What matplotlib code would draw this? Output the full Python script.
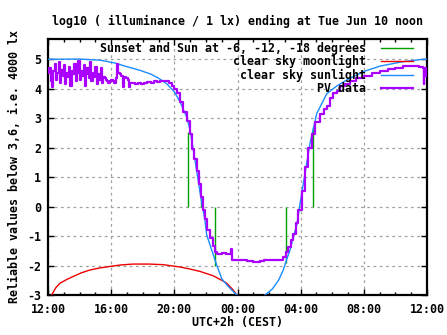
import matplotlib
matplotlib.use("Agg")
import matplotlib.pyplot as plt
import numpy as np
from matplotlib.ticker import MultipleLocator, FixedLocator
from matplotlib.lines import Line2D

# ---- data (hours after 12:00 on the x axis, log10 lux on the y axis) ----
title = "log10 ( illuminance / 1 lx) ending at Tue Jun 10 noon"
xlabel = "UTC+2h (CEST)"
ylabel = "Reliable values below 3,6, i.e. 4000 lx"
xtick_hours = [0, 4, 8, 12, 16, 20, 24]
xtick_labels = ["12:00", "16:00", "20:00", "00:00", "04:00", "08:00", "12:00"]
ytick_values = [5, 4, 3, 2, 1, 0, -1, -2, -3]

legend_labels = ["Sunset and Sun at -6, -12, -18 degrees", "clear sky moonlight",
                 "clear sky sunlight", "PV data"]

sun_event_hours = [8.885, 9.67, 10.6, 15.05, 16.02, 16.8]
sun_event_tops = [2.52, 0.28, -2.0, -1.93, 0.22, 2.7]

moon_hours = [0.23, 0.5, 0.76, 1.2, 1.6, 2.1, 2.66, 3.3, 3.93, 4.6, 5.4, 6.4, 7.3,
              8.36, 9.0, 9.63, 10.47, 11.0, 11.32, 11.73, 11.95]
moon_vals = [-3.0, -2.75, -2.6, -2.47, -2.37, -2.25, -2.15, -2.08, -2.03, -1.98, -1.95,
             -1.95, -1.97, -2.05, -2.12, -2.2, -2.35, -2.5, -2.6, -2.83, -3.0]

sun_hours = [0, 2.0, 3.3, 4.2, 5.0, 5.8, 6.5, 7.0, 7.5, 8.0, 8.36, 8.78, 9.0, 9.3,
             9.52, 9.73, 9.94, 10.05, 10.26, 10.47, 10.68, 10.89, 11.0, 11.4, 11.84,
             11.97, 12.85, 13.74, 14.2, 14.6, 14.9, 15.11, 15.33, 15.54, 15.75, 15.96,
             16.59, 17.02, 17.65, 18.3, 18.92, 19.95, 21.03, 22.48, 23.75, 24.0]
sun_vals = [5.0, 5.01, 4.97, 4.88, 4.75, 4.63, 4.5, 4.36, 4.18, 3.9, 3.56, 3.04, 2.6,
            1.6, 0.85, 0.15, -0.47, -0.96, -1.3, -1.64, -1.98, -2.28, -2.45, -2.7,
            -2.94, -3.0, -3.3, -3.0, -2.8, -2.5, -2.15, -1.8, -1.47, -1.02, -0.63, 0.1,
            2.15, 3.16, 3.83, 4.1, 4.3, 4.58, 4.77, 4.92, 5.0, 5.0]

pv_hours = [0.00, 0.08, 0.16, 0.25, 0.33, 0.42, 0.50, 0.58, 0.67, 0.75, 0.83, 0.92,
            1.00, 1.08, 1.17, 1.25, 1.33, 1.42, 1.50, 1.58, 1.67, 1.75, 1.83, 1.92,
            2.00, 2.08, 2.17, 2.25, 2.33, 2.42, 2.50, 2.58, 2.67, 2.75, 2.83, 2.92,
            3.00, 3.08, 3.17, 3.25, 3.33, 3.42, 3.50, 3.58, 3.67, 3.75, 3.83, 3.92,
            4.00, 4.10, 4.20, 4.30, 4.37, 4.45, 4.55, 4.65, 4.75, 4.82, 4.95, 5.05,
            5.15, 5.22, 5.35, 5.50, 5.70, 5.90, 6.10, 6.30, 6.50, 6.70, 6.90, 7.10,
            7.30, 7.50, 7.65, 7.83, 8.00, 8.15, 8.36, 8.57, 8.78, 8.99, 9.14, 9.27,
            9.42, 9.56, 9.69, 9.84, 9.94, 10.10, 10.26, 10.45, 10.58, 10.68, 11.0,
            11.3, 11.55, 11.62, 11.65, 12.0, 12.3, 12.6, 13.0, 13.4, 13.7, 14.3, 14.6,
            14.9, 15.05, 15.2, 15.38, 15.54, 15.70, 15.85, 16.07, 16.28, 16.49, 16.70,
            16.91, 17.23, 17.45, 17.65, 17.86, 18.07, 18.28, 18.49, 18.81, 19.13, 19.5,
            20.0, 20.5, 21.0, 21.5, 22.0, 22.5, 23.0, 23.5, 23.72, 23.78, 23.84, 23.95,
            24.0]
pv_vals = [4.55, 4.70, 4.25, 4.05, 4.60, 4.85, 4.30, 4.55, 4.90, 4.20, 4.65, 4.45,
           4.80, 4.15, 4.55, 4.40, 4.75, 4.10, 4.60, 4.50, 4.85, 4.25, 4.55, 4.95,
           4.30, 4.60, 4.45, 4.80, 4.10, 4.50, 4.70, 4.35, 4.90, 4.25, 4.55, 4.40,
           4.75, 4.15, 4.50, 4.30, 4.70, 4.20, 4.40, 4.35, 4.30, 4.25, 4.20, 4.25,
           4.30, 4.25, 4.20, 4.35, 4.85, 4.55, 4.50, 4.45, 4.05, 4.40, 4.35, 4.30,
           4.05, 4.20, 4.18, 4.15, 4.18, 4.16, 4.20, 4.22, 4.20, 4.25, 4.22, 4.25,
           4.28, 4.25, 4.20, 4.10, 4.00, 3.87, 3.55, 3.22, 2.90, 2.45, 1.96, 1.62,
           1.22, 0.77, 0.32, -0.13, -0.41, -0.80, -1.07, -1.35, -1.53, -1.60, -1.58,
           -1.62, -1.60, -1.45, -1.80, -1.82, -1.80, -1.86, -1.87, -1.86, -1.80, -1.82,
           -1.80, -1.70, -1.55, -1.37, -1.15, -0.92, -0.55, -0.13, 0.54, 1.33, 2.00,
           2.47, 2.86, 3.14, 3.30, 3.42, 3.70, 3.85, 3.92, 4.10, 4.15, 4.25, 4.35,
           4.45, 4.55, 4.62, 4.68, 4.72, 4.76, 4.77, 4.75, 4.72, 4.15, 4.70, 4.45,
           4.45]

# ---- styling ----
GREEN = "#00a000"
RED = "#ee0000"
BLUE = "#1a8cff"
PURPLE = "#aa00ff"
FONT = "DejaVu Sans Mono"
FS = 8.4

plt.rcParams["font.family"] = [FONT]
plt.rcParams["font.weight"] = "bold"
plt.rcParams["font.size"] = FS

fig = plt.figure(figsize=(4.47, 3.35), dpi=100)
ax = fig.add_axes([48 / 447, 1 - 295 / 335, 379 / 447, (295 - 38.7) / 335])

ax.set_xlim(0, 24)
ax.set_ylim(-3, 5.7)

ax.xaxis.set_major_locator(FixedLocator(xtick_hours))
ax.set_xticklabels(xtick_labels, fontweight="bold")
ax.xaxis.set_minor_locator(MultipleLocator(1))
ax.yaxis.set_major_locator(FixedLocator(ytick_values))
ax.set_yticklabels([str(v) for v in ytick_values], fontweight="bold")

ax.tick_params(which="both", direction="in", top=True, right=True, width=1, color="black")
ax.tick_params(which="major", length=4.5)
ax.tick_params(which="minor", length=2.5)
ax.tick_params(axis="x", which="major", pad=6)
ax.tick_params(axis="y", which="major", pad=5)
for s in ax.spines.values():
    s.set_linewidth(1.6)

ax.grid(True, which="major", color="#a0a0a0", linestyle=(0, (2.2, 2.8)), linewidth=0.9)
ax.set_axisbelow(True)

# curves
ax.vlines(sun_event_hours, 0, sun_event_tops, color=GREEN, linewidth=1.0, zorder=3)
h_moon, = ax.plot(moon_hours, moon_vals, color=RED, linewidth=1.0, zorder=3)
h_clear, = ax.plot(sun_hours, sun_vals, color=BLUE, linewidth=1.0, zorder=3)
h_pv, = ax.plot(pv_hours, pv_vals, color=PURPLE, linewidth=1.6, drawstyle="steps-post", zorder=4)

green_handle = Line2D([], [], color=GREEN, linewidth=1.0)
width = max(len(s) for s in legend_labels)
labels = [s.rjust(width) for s in legend_labels]
leg = ax.legend([green_handle, h_moon, h_clear, h_pv], labels, loc="upper right",
                bbox_to_anchor=(0.963, 0.987),
                markerfirst=False, frameon=False, handlelength=2.75, handletextpad=1.25,
                labelspacing=0.03, borderaxespad=0.0, borderpad=0.0,
                prop={"family": FONT, "weight": "bold", "size": FS})
leg.set_zorder(5)

ax.set_title(title, fontweight="bold", fontsize=FS, pad=10)
ax.set_xlabel(xlabel, fontweight="bold", labelpad=0)
ax.set_ylabel(ylabel, fontweight="bold", labelpad=4)

fig.savefig("out.png", dpi=100)
